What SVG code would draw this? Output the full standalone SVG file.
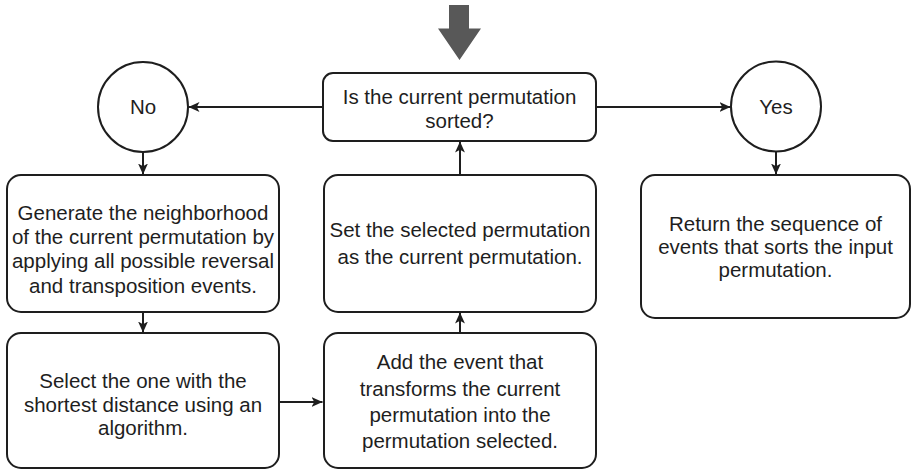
<svg xmlns="http://www.w3.org/2000/svg" width="912" height="471" viewBox="0 0 912 471">
<style>
.box{fill:#fff;stroke:#1e1e1e;stroke-width:2}
.t{font-family:"Liberation Sans",Arial,sans-serif;font-size:20.5px;fill:#1e1e1e;text-anchor:middle}
.c{fill:none;stroke:#1e1e1e;stroke-width:2}
</style>
<defs>
<marker id="ah" viewBox="0 0 10 10" refX="10" refY="5" markerWidth="11" markerHeight="11" markerUnits="userSpaceOnUse" orient="auto">
<path d="M0,0.5 L10,5 L0,9.5 L2.5,5 Z" fill="#1e1e1e"/>
</marker>
</defs>
<rect width="912" height="471" fill="#fff"/>
<g id="start">
<polygon points="449,5 469,5 469,28.5 481,28.5 459.5,60 438,28.5 449,28.5" fill="#585858"/>
</g>
<g id="connectors">
<line class="c" x1="323" y1="107" x2="188.5" y2="107" marker-end="url(#ah)"/>
<line class="c" x1="596" y1="107" x2="730.5" y2="107" marker-end="url(#ah)"/>
<line class="c" x1="143" y1="152" x2="143" y2="174.5" marker-end="url(#ah)"/>
<line class="c" x1="776" y1="152" x2="776" y2="174.5" marker-end="url(#ah)"/>
<line class="c" x1="143" y1="312" x2="143" y2="332.5" marker-end="url(#ah)"/>
<line class="c" x1="279" y1="402" x2="322.5" y2="402" marker-end="url(#ah)"/>
<line class="c" x1="460" y1="333" x2="460" y2="312.5" marker-end="url(#ah)"/>
<line class="c" x1="460" y1="175" x2="460" y2="141.5" marker-end="url(#ah)"/>
</g>
<g id="decision">
<rect class="box" x="323" y="73" width="273" height="68" rx="10"/>
<text class="t" x="459.5" y="104">Is the current permutation</text>
<text class="t" x="459.5" y="127.5">sorted?</text>
</g>
<g id="no">
<circle class="box" cx="143" cy="107" r="45"/>
<text class="t" x="143" y="114">No</text>
</g>
<g id="yes">
<circle class="box" cx="776" cy="106.5" r="45"/>
<text class="t" x="776" y="114">Yes</text>
</g>
<g id="generate">
<rect class="box" x="7" y="175" width="272" height="137" rx="14"/>
<text class="t" x="143" y="219.5">Generate the neighborhood</text>
<text class="t" x="143" y="244">of the current permutation by</text>
<text class="t" x="143" y="268">applying all possible reversal</text>
<text class="t" x="143" y="292.5">and transposition events.</text>
</g>
<g id="select">
<rect class="box" x="7" y="333" width="272" height="135" rx="14"/>
<text class="t" x="143" y="388">Select the one with the</text>
<text class="t" x="143" y="412">shortest distance using an</text>
<text class="t" x="143" y="435">algorithm.</text>
</g>
<g id="set">
<rect class="box" x="324" y="175" width="272" height="137" rx="14"/>
<text class="t" x="460" y="237">Set the selected permutation</text>
<text class="t" x="460" y="263.5">as the current permutation.</text>
</g>
<g id="add">
<rect class="box" x="324" y="333" width="272" height="135" rx="14"/>
<text class="t" x="460" y="369">Add the event that</text>
<text class="t" x="460" y="395.5">transforms the current</text>
<text class="t" x="460" y="422">permutation into the</text>
<text class="t" x="460" y="448">permutation selected.</text>
</g>
<g id="return">
<rect class="box" x="641" y="175" width="269" height="143" rx="14"/>
<text class="t" x="775.5" y="231">Return the sequence of</text>
<text class="t" x="775.5" y="254">events that sorts the input</text>
<text class="t" x="775.5" y="277">permutation.</text>
</g>
</svg>
